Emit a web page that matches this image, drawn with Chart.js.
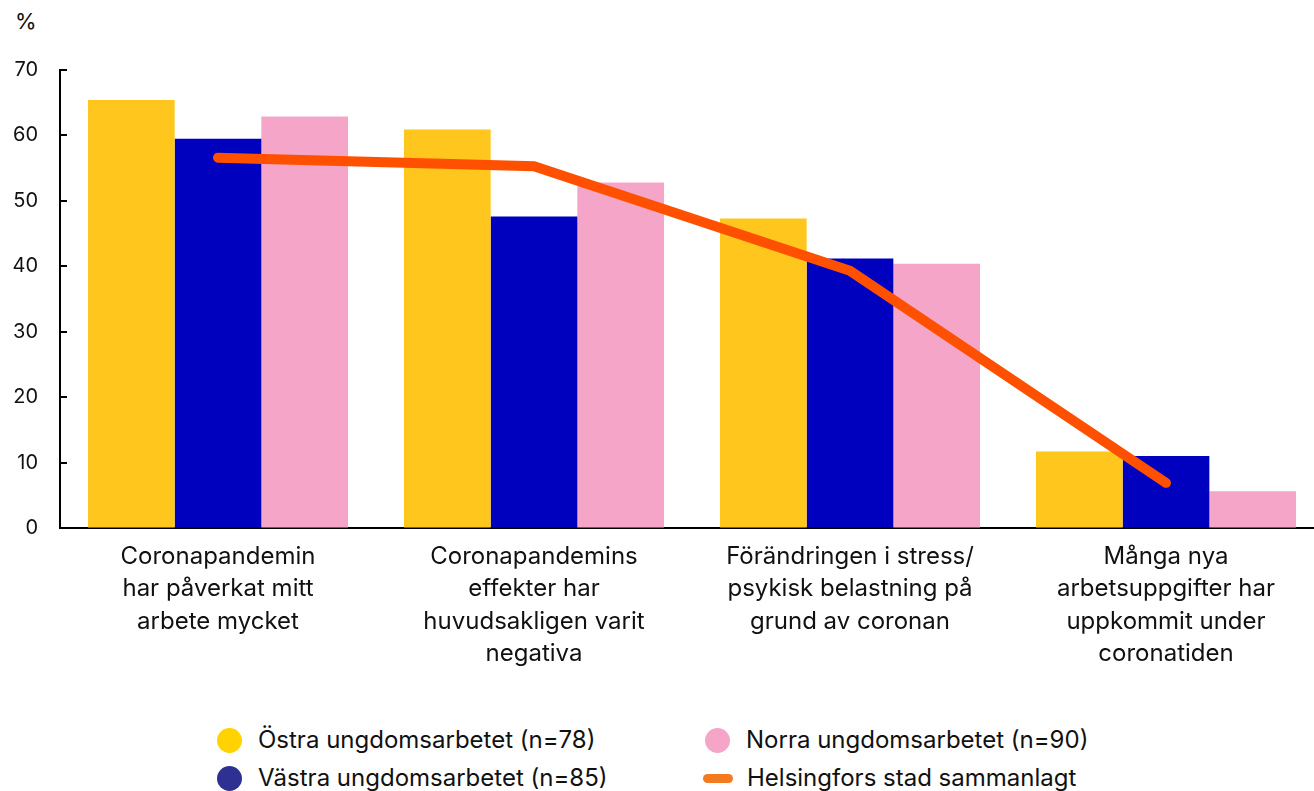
<!DOCTYPE html>
<html>
<head>
<meta charset="utf-8">
<script src="https://cdn.jsdelivr.net/npm/chart.js@4"></script>
<style>
  html, body { margin: 0; padding: 0; background: #fff; overflow: hidden; }
  body { width: 1314px; height: 791px; position: relative; font-family: Inter, "Noto Sans", sans-serif; color: #111; }
  #wrap { position: absolute; left: 0; top: 0; width: 1324px; height: 700px; }
  #unit { position: absolute; left: 15px; top: 8px; font-size: 22px; }
  .legend { position: absolute; font-size: 24px; display: flex; align-items: center; line-height: 30px; }
  .legend .dot { width: 25px; height: 25px; border-radius: 50%; margin-right: 16px; }
  .legend .bar { width: 30px; height: 9px; border-radius: 5px; margin-right: 14px; }
</style>
</head>
<body>
<div id="unit">%</div>
<div id="wrap"><canvas id="chart"></canvas></div>
<div id="legend"></div>
<script>
// categories and values (%)
const categories = [
  ['Coronapandemin', 'har påverkat mitt', 'arbete mycket'],
  ['Coronapandemins', 'effekter har', 'huvudsakligen varit', 'negativa'],
  ['Förändringen i stress/', 'psykisk belastning på', 'grund av coronan'],
  ['Många nya', 'arbetsuppgifter har', 'uppkommit under', 'coronatiden']
];
const ostra = [65.4, 60.9, 47.3, 11.7];
const vastra = [59.5, 47.6, 41.2, 11.0];
const norra = [62.9, 52.8, 40.4, 5.6];
const helsingfors = [56.6, 55.3, 39.3, 6.9];
const yTicks = [0, 10, 20, 30, 40, 50, 60, 70];

const seriesNames = [
  'Östra ungdomsarbetet (n=78)',
  'Västra ungdomsarbetet (n=85)',
  'Norra ungdomsarbetet (n=90)',
  'Helsingfors stad sammanlagt'
];

// inward tick marks on the y axis
const innerTicks = {
  id: 'innerTicks',
  afterDraw(chart) {
    const y = chart.scales.y;
    const ctx = chart.ctx;
    ctx.save();
    ctx.strokeStyle = '#000';
    ctx.lineWidth = 2;
    yTicks.forEach(v => {
      const py = Math.round(y.getPixelForValue(v));
      ctx.beginPath();
      ctx.moveTo(y.right, py);
      ctx.lineTo(y.right + 7, py);
      ctx.stroke();
    });
    ctx.restore();
  }
};

new Chart(document.getElementById('chart'), {
  type: 'bar',
  data: {
    labels: categories,
    datasets: [
      { type: 'line', label: seriesNames[3], data: helsingfors, borderColor: '#FF5000', backgroundColor: '#FF5000',
        borderWidth: 10, pointRadius: 0, borderCapStyle: 'round', borderJoinStyle: 'miter', order: 0 },
      { label: seriesNames[0], data: ostra, backgroundColor: '#FFC61E', order: 1 },
      { label: seriesNames[1], data: vastra, backgroundColor: '#0000BF', order: 1 },
      { label: seriesNames[2], data: norra, backgroundColor: '#F5A5C8', order: 1 }
    ]
  },
  options: {
    responsive: true,
    maintainAspectRatio: false,
    animation: false,
    layout: { padding: { top: 70, left: 0, right: 0, bottom: 0 } },
    datasets: { bar: { categoryPercentage: 0.823, barPercentage: 1.0 } },
    plugins: { legend: { display: false }, tooltip: { enabled: false } },
    scales: {
      x: {
        grid: { display: false },
        border: { display: true, color: '#000', width: 2 },
        ticks: { color: '#111', font: { family: 'Inter, "Noto Sans", sans-serif', size: 24, lineHeight: 1.36 }, padding: 4, maxRotation: 0, autoSkip: false },
        afterFit(scale) { scale.height = 172; }
      },
      y: {
        min: 0, max: 70,
        afterBuildTicks(scale) { scale.ticks = yTicks.map(v => ({ value: v })); },
        grid: { drawOnChartArea: false, drawTicks: false },
        border: { display: true, color: '#000', width: 2 },
        ticks: { color: '#111', font: { family: 'Inter, "Noto Sans", sans-serif', size: 20 }, padding: 22 },
        afterFit(scale) { scale.width = 60; }
      }
    }
  },
  plugins: [innerTicks]
});

// html legend in two columns
const legendItems = [
  { name: seriesNames[0], color: '#FFD200', kind: 'dot', x: 217, y: 740 },
  { name: seriesNames[2], color: '#F5A5C8', kind: 'dot', x: 705, y: 740 },
  { name: seriesNames[1], color: '#2E3192', kind: 'dot', x: 217, y: 778 },
  { name: seriesNames[3], color: '#F47A20', kind: 'bar', x: 703, y: 778 }
];
const legendEl = document.getElementById('legend');
legendItems.forEach(it => {
  const d = document.createElement('div');
  d.className = 'legend';
  d.style.left = it.x + 'px';
  d.style.top = (it.y - 15) + 'px';
  d.innerHTML = '<span class="' + it.kind + '" style="background:' + it.color + '"></span><span>' + it.name + '</span>';
  legendEl.appendChild(d);
});
</script>
</body>
</html>
